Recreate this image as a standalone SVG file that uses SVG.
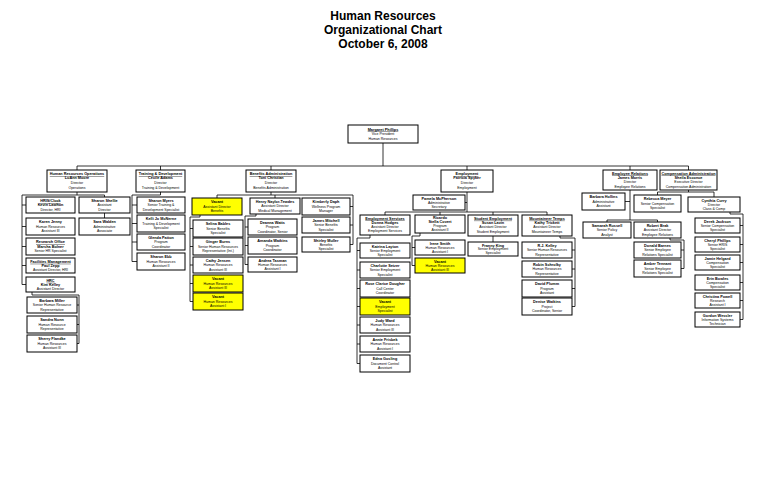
<svg xmlns="http://www.w3.org/2000/svg" width="768" height="497" viewBox="0 0 768 497">
<style>
.bx{fill:#fff;stroke:#000;stroke-width:1}
.yl{fill:#ffff00;stroke:#000;stroke-width:1}
text{font-family:"Liberation Sans",Arial,sans-serif;font-size:3.5px;text-anchor:middle;fill:#000}
.n{font-weight:bold;font-size:3.8px}
.u{font-weight:bold;font-size:3.8px;text-decoration:underline}
.ttl{font-size:12px;font-weight:bold}
.cn{fill:none;stroke:#000;stroke-width:0.8}
</style>
<rect width="768" height="497" fill="#fff"/>
<g id="title">
<text class="ttl" x="383" y="20">Human Resources</text>
<text class="ttl" x="383" y="34">Organizational Chart</text>
<text class="ttl" x="383" y="48">October 6, 2008</text>
</g>
<g id="connectors" class="cn">
<path d="M383 143V166M77 166H688.5M77 166V170M160.5 166V170M271 166V170M467 166V170M630 166V170M688.5 166V170"/>
<path d="M77 192V195H22V284.5M22 205H26M22 226.5H26M22 246.5H26M22 265.5H26M22 284.5H26M77 195H104.5V197M104.5 213V218M32 292V295H79V343.5M77 305H79M77 324.5H79M77 343.5H79"/>
<path d="M160.5 192V195H132V261.5M132 205H137M132 223.5H137M132 242H137M132 261.5H137"/>
<path d="M271 192V195M217 198V195H353V244.5M275 195V198M350 206.5H353M350 225H353M350 244.5H353M200 215V217H190V301.5M190 228.5H193M190 246.5H193M190 265H193M190 283.5H193M190 301.5H193M256 214V216H245V264.5M245 227H248M245 245.5H248M245 264.5H248"/>
<path d="M467 192V212M465 202.5H467M385 215V212H547V215M440 212V215M493 212V215M370 235V238H357V363.5M357 250.5H360M357 270H360M357 288.5H360M357 306.5H360M357 325H360M357 344H360M357 363.5H360M420 233V236H412V265.5M412 247.5H415M412 265.5H415M493 236V242M560 236V238H575V306.5M572 250H575M572 269H575M572 288.5H575M572 306.5H575"/>
<path d="M630 190V220M625 201.5H630M607 222V220H657.5V222M670 238V240H684V268.5M681 250H684M681 268.5H684"/>
<path d="M688.5 190V192M657.5 195V192H714V197M730 212V214H743V319.5M740 225.5H743M740 244.5H743M740 262.5H743M740 282.5H743M740 300.5H743M740 319.5H743"/>
</g>
<g id="root"><rect class="bx" x="348" y="125" width="70" height="18"/><text x="383" y="130.5" class="u">Margaret Phillips</text><text x="383" y="135">Vice President</text><text x="383" y="140">Human Resources</text></g>
<g id="ops"><rect class="bx" x="47" y="170" width="60" height="22"/><text x="77" y="175" class="u">Human Resources Operations</text><text x="77" y="179.3" class="n">LuAnn Moore</text><text x="77" y="184">Director</text><text x="77" y="188.5">Operations</text></g>
<g id="train"><rect class="bx" x="136" y="170" width="49" height="22"/><text x="160.5" y="175" class="u">Training &amp; Development</text><text x="160.5" y="179.3" class="n">Cecile Adams</text><text x="160.5" y="184">Director</text><text x="160.5" y="188.5">Training &amp; Development</text></g>
<g id="ben"><rect class="bx" x="246" y="170" width="50" height="22"/><text x="271" y="175" class="u">Benefits Administration</text><text x="271" y="179.3" class="n">Toni Christian</text><text x="271" y="184">Director</text><text x="271" y="188.5">Benefits Administration</text></g>
<g id="emp"><rect class="bx" x="441" y="170" width="52" height="22"/><text x="467" y="175" class="u">Employment</text><text x="467" y="179.3" class="n">Patricia Spyker</text><text x="467" y="184">Director</text><text x="467" y="188.5">Employment</text></g>
<g id="er"><rect class="bx" x="603" y="170" width="54" height="20"/><text x="630" y="174.5" class="u">Employee Relations</text><text x="630" y="178.8" class="n">James Morris</text><text x="630" y="183.2">Director</text><text x="630" y="187.5">Employee Relations</text></g>
<g id="comp"><rect class="bx" x="660" y="170" width="57" height="20"/><text x="688.5" y="174.5" class="u">Compensation Administration</text><text x="688.5" y="178.8" class="n">Sheila Esconce</text><text x="688.5" y="183.2">Executive Director</text><text x="688.5" y="187.5">Compensation Administration</text></g>
<g id="hris"><rect class="bx" x="26" y="197" width="49" height="16"/><text x="50.5" y="202" class="u">HRIS/Clock</text><text x="50.5" y="206.3" class="n">Kevin Lawhon</text><text x="50.5" y="210.6">Director, HRI</text></g>
<g id="shellie"><rect class="bx" x="79" y="197" width="51" height="16"/><text x="104.5" y="202" class="n">Sharon Shellie</text><text x="104.5" y="206.3">Assistant</text><text x="104.5" y="210.6">Director</text></g>
<g id="jenny"><rect class="bx" x="26" y="218" width="49" height="17"/><text x="50.5" y="223.3" class="n">Karen Jenny</text><text x="50.5" y="227.8">Human Resources</text><text x="50.5" y="232.3">Assistant III</text></g>
<g id="walden"><rect class="bx" x="79" y="218" width="51" height="17"/><text x="104.5" y="223.3" class="n">Sara Walden</text><text x="104.5" y="227.8">Administrative</text><text x="104.5" y="232.3">Associate</text></g>
<g id="research"><rect class="bx" x="26" y="238" width="49" height="17"/><text x="50.5" y="243.3" class="u">Research Office</text><text x="50.5" y="247.8" class="n">Marsha Bolner</text><text x="50.5" y="252.3">Senior HR Specialist</text></g>
<g id="facilities"><rect class="bx" x="26" y="258" width="49" height="15"/><text x="50.5" y="262.8" class="u">Facilities Management</text><text x="50.5" y="266.8" class="n">Paul Zepp</text><text x="50.5" y="270.8">Assistant Director, HRI</text></g>
<g id="hrc"><rect class="bx" x="26" y="277" width="49" height="15"/><text x="50.5" y="281.8" class="u">HRC</text><text x="50.5" y="285.8" class="n">Kim Kelley</text><text x="50.5" y="289.8">Assistant Director</text></g>
<g id="miller"><rect class="bx" x="27" y="297" width="50" height="16"/><text x="52" y="302" class="n">Barbara Miller</text><text x="52" y="306.3">Senior Human Resource</text><text x="52" y="310.6">Representative</text></g>
<g id="nunn"><rect class="bx" x="27" y="316" width="50" height="17"/><text x="52" y="321.3" class="n">Sandra Nunn</text><text x="52" y="325.8">Human Resource</text><text x="52" y="330.3">Representative</text></g>
<g id="flandke"><rect class="bx" x="27" y="335" width="50" height="17"/><text x="52" y="340.3" class="n">Sherry Flandke</text><text x="52" y="344.8">Human Resources</text><text x="52" y="349.3">Assistant III</text></g>
<g id="myers"><rect class="bx" x="137" y="197" width="48" height="16"/><text x="161" y="202" class="n">Sharon Myers</text><text x="161" y="206.3">Senior Training &amp;</text><text x="161" y="210.6">Development Specialist</text></g>
<g id="mcnerne"><rect class="bx" x="137" y="215" width="48" height="17"/><text x="161" y="220.3" class="n">Kelli Jo McNerne</text><text x="161" y="224.8">Training &amp; Development</text><text x="161" y="229.3">Specialist</text></g>
<g id="patton"><rect class="bx" x="137" y="234" width="48" height="16"/><text x="161" y="239" class="n">Glenda Patton</text><text x="161" y="243.3">Program</text><text x="161" y="247.6">Coordinator</text></g>
<g id="ebb"><rect class="bx" x="137" y="253" width="48" height="17"/><text x="161" y="258.3" class="n">Sharon Ebb</text><text x="161" y="262.8">Human Resources</text><text x="161" y="267.3">Assistant II</text></g>
<g id="vacad"><rect class="yl" x="192" y="198" width="50" height="17"/><text x="217" y="203.3" class="n">Vacant</text><text x="217" y="207.8">Assistant Director</text><text x="217" y="212.3">Benefits</text></g>
<g id="bables"><rect class="bx" x="193" y="220" width="50" height="17"/><text x="218" y="225.3" class="n">Selina Bables</text><text x="218" y="229.8">Senior Benefits</text><text x="218" y="234.3">Specialist</text></g>
<g id="burns"><rect class="bx" x="193" y="238" width="50" height="17"/><text x="218" y="243.3" class="n">Ginger Burns</text><text x="218" y="247.8">Senior Human Resources</text><text x="218" y="252.3">Representative (Int.)</text></g>
<g id="jensen"><rect class="bx" x="193" y="257" width="50" height="16"/><text x="218" y="262" class="n">Cathy Jensen</text><text x="218" y="266.3">Human Resources</text><text x="218" y="270.6">Assistant III</text></g>
<g id="vac2"><rect class="yl" x="193" y="275" width="50" height="17"/><text x="218" y="280.3" class="n">Vacant</text><text x="218" y="284.8">Human Resources</text><text x="218" y="289.3">Assistant III</text></g>
<g id="vac3"><rect class="yl" x="193" y="293" width="50" height="17"/><text x="218" y="298.3" class="n">Vacant</text><text x="218" y="302.8">Human Resources</text><text x="218" y="307.3">Assistant I</text></g>
<g id="henry"><rect class="bx" x="250" y="198" width="50" height="16"/><text x="275" y="203" class="n">Henry Naylor-Tewdes</text><text x="275" y="207.3">Assistant Director</text><text x="275" y="211.6">Medical Management</text></g>
<g id="watts"><rect class="bx" x="248" y="219" width="49" height="16"/><text x="272.5" y="224" class="n">Deanna Watts</text><text x="272.5" y="228.3">Program</text><text x="272.5" y="232.6">Coordinator, Senior</text></g>
<g id="watkins"><rect class="bx" x="248" y="237" width="49" height="17"/><text x="272.5" y="242.3" class="n">Amanda Watkins</text><text x="272.5" y="246.8">Program</text><text x="272.5" y="251.3">Coordinator</text></g>
<g id="tasman"><rect class="bx" x="248" y="257" width="49" height="15"/><text x="272.5" y="261.8" class="n">Andrea Tasman</text><text x="272.5" y="265.8">Human Resources</text><text x="272.5" y="269.8">Assistant I</text></g>
<g id="daph"><rect class="bx" x="302" y="198" width="48" height="17"/><text x="326" y="203.3" class="n">Kimberly Daph</text><text x="326" y="207.8">Wellness Program</text><text x="326" y="212.3">Manager</text></g>
<g id="mitchell"><rect class="bx" x="302" y="217" width="48" height="16"/><text x="326" y="222" class="n">James Mitchell</text><text x="326" y="226.3">Senior Benefits</text><text x="326" y="230.6">Specialist</text></g>
<g id="muller"><rect class="bx" x="302" y="237" width="48" height="15"/><text x="326" y="241.8" class="n">Shirley Muller</text><text x="326" y="245.8">Benefits</text><text x="326" y="249.8">Specialist</text></g>
<g id="pamela"><rect class="bx" x="413" y="195" width="52" height="15"/><text x="439" y="199.8" class="n">Pamela McPherson</text><text x="439" y="203.8">Administrative</text><text x="439" y="207.8">Secretary</text></g>
<g id="hodges"><rect class="bx" x="360" y="215" width="50" height="20"/><text x="385" y="219.5" class="u">Employment Services</text><text x="385" y="223.8" class="n">Donna Hodges</text><text x="385" y="228.1">Assistant Director</text><text x="385" y="232.4">Employment Services</text></g>
<g id="covert"><rect class="bx" x="415" y="215" width="50" height="18"/><text x="440" y="219.3" class="n">Ricardo</text><text x="440" y="223.3" class="n">Stella Covert</text><text x="440" y="227.3">Program</text><text x="440" y="231.3">Assistant II</text></g>
<g id="lavin"><rect class="bx" x="468" y="215" width="50" height="21"/><text x="493" y="219.7" class="u">Student Employment</text><text x="493" y="224" class="n">Susan Lavin</text><text x="493" y="228.4">Assistant Director</text><text x="493" y="232.8">Student Employment</text></g>
<g id="trickett"><rect class="bx" x="522" y="215" width="50" height="21"/><text x="547" y="219.7" class="u">Mountaineer Temps</text><text x="547" y="224" class="n">Kathy Trickett</text><text x="547" y="228.4">Assistant Director</text><text x="547" y="232.8">Mountaineer Temps</text></g>
<g id="layton"><rect class="bx" x="360" y="243" width="50" height="15"/><text x="385" y="247.8" class="n">Katrina Layton</text><text x="385" y="251.8">Senior Employment</text><text x="385" y="255.8">Specialist</text></g>
<g id="setzer"><rect class="bx" x="360" y="262" width="50" height="16"/><text x="385" y="267" class="n">Charlotte Setzer</text><text x="385" y="271.3">Senior Employment</text><text x="385" y="275.6">Specialist</text></g>
<g id="dougher"><rect class="bx" x="360" y="280" width="50" height="17"/><text x="385" y="285.3" class="n">Rose Clarice Dougher</text><text x="385" y="289.8">Call Center</text><text x="385" y="294.3">Coordinator</text></g>
<g id="vaces"><rect class="yl" x="360" y="298" width="50" height="17"/><text x="385" y="303.3" class="n">Vacant</text><text x="385" y="307.8">Employment</text><text x="385" y="312.3">Specialist</text></g>
<g id="ward"><rect class="bx" x="360" y="317" width="50" height="16"/><text x="385" y="322" class="n">Judy Ward</text><text x="385" y="326.3">Human Resources</text><text x="385" y="330.6">Assistant III</text></g>
<g id="frisbek"><rect class="bx" x="360" y="336" width="50" height="16"/><text x="385" y="341" class="n">Annie Frisbek</text><text x="385" y="345.3">Human Resources</text><text x="385" y="349.6">Assistant I</text></g>
<g id="gosling"><rect class="bx" x="360" y="355" width="50" height="17"/><text x="385" y="360.3" class="n">Edna Gosling</text><text x="385" y="364.8">Document Control</text><text x="385" y="369.3">Assistant</text></g>
<g id="smith"><rect class="bx" x="415" y="240" width="50" height="15"/><text x="440" y="244.8" class="n">Irene Smith</text><text x="440" y="248.8">Human Resources</text><text x="440" y="252.8">Assistant I</text></g>
<g id="vachr"><rect class="yl" x="415" y="258" width="50" height="15"/><text x="440" y="262.8" class="n">Vacant</text><text x="440" y="266.8">Human Resources</text><text x="440" y="270.8">Assistant III</text></g>
<g id="franny"><rect class="bx" x="468" y="242" width="50" height="14"/><text x="493" y="246.5" class="n">Franny King</text><text x="493" y="250.3">Senior Employment</text><text x="493" y="254.1">Specialist</text></g>
<g id="kelley"><rect class="bx" x="522" y="242" width="50" height="16"/><text x="547" y="247" class="n">R.J. Kelley</text><text x="547" y="251.3">Senior Human Resources</text><text x="547" y="255.6">Representative</text></g>
<g id="schrolky"><rect class="bx" x="522" y="261" width="50" height="16"/><text x="547" y="266" class="n">Robin Schrolky</text><text x="547" y="270.3">Human Resources</text><text x="547" y="274.6">Representative</text></g>
<g id="plumm"><rect class="bx" x="522" y="280" width="50" height="17"/><text x="547" y="285.3" class="n">David Plumm</text><text x="547" y="289.8">Program</text><text x="547" y="294.3">Assistant</text></g>
<g id="dwatkins"><rect class="bx" x="522" y="298" width="50" height="17"/><text x="547" y="303.3" class="n">Denise Watkins</text><text x="547" y="307.8">Project</text><text x="547" y="312.3">Coordinator, Senior</text></g>
<g id="hollins"><rect class="bx" x="582" y="193" width="43" height="17"/><text x="603.5" y="198.3" class="n">Barbara Hollins</text><text x="603.5" y="202.8">Administrative</text><text x="603.5" y="207.3">Assistant</text></g>
<g id="meyer"><rect class="bx" x="634" y="195" width="47" height="17"/><text x="657.5" y="200.3" class="n">Rebecca Meyer</text><text x="657.5" y="204.8">Senior Compensation</text><text x="657.5" y="209.3">Specialist</text></g>
<g id="russell"><rect class="bx" x="583" y="222" width="48" height="16"/><text x="607" y="227" class="n">Samarah Russell</text><text x="607" y="231.3">Senior Policy</text><text x="607" y="235.6">Analyst</text></g>
<g id="brak"><rect class="bx" x="634" y="222" width="47" height="16"/><text x="657.5" y="227" class="n">Robert Brak</text><text x="657.5" y="231.3">Assistant Director</text><text x="657.5" y="235.6">Employee Relations</text></g>
<g id="barnes"><rect class="bx" x="634" y="242" width="47" height="16"/><text x="657.5" y="247" class="n">Donald Barnes</text><text x="657.5" y="251.3">Senior Employee</text><text x="657.5" y="255.6">Relations Specialist</text></g>
<g id="tennant"><rect class="bx" x="634" y="260" width="47" height="17"/><text x="657.5" y="265.3" class="n">Amber Tennant</text><text x="657.5" y="269.8">Senior Employee</text><text x="657.5" y="274.3">Relations Specialist</text></g>
<g id="curry"><rect class="bx" x="688" y="197" width="52" height="15"/><text x="714" y="201.8" class="n">Cynthia Curry</text><text x="714" y="205.8">Director</text><text x="714" y="209.8">Class &amp; Comp</text></g>
<g id="jackson"><rect class="bx" x="695" y="218" width="45" height="15"/><text x="717.5" y="222.8" class="n">Derek Jackson</text><text x="717.5" y="226.8">Senior Compensation</text><text x="717.5" y="230.8">Specialist</text></g>
<g id="cphillips"><rect class="bx" x="695" y="237" width="45" height="15"/><text x="717.5" y="241.8" class="n">Cheryl Phillips</text><text x="717.5" y="245.8">Senior HRIS</text><text x="717.5" y="249.8">Specialist</text></g>
<g id="helgard"><rect class="bx" x="695" y="255" width="45" height="15"/><text x="717.5" y="259.8" class="n">Jamie Helgard</text><text x="717.5" y="263.8">Compensation</text><text x="717.5" y="267.8">Specialist</text></g>
<g id="bowles"><rect class="bx" x="695" y="275" width="45" height="15"/><text x="717.5" y="279.8" class="n">Erin Bowles</text><text x="717.5" y="283.8">Compensation</text><text x="717.5" y="287.8">Specialist</text></g>
<g id="powell"><rect class="bx" x="695" y="293" width="45" height="15"/><text x="717.5" y="297.8" class="n">Christina Powell</text><text x="717.5" y="301.8">Research</text><text x="717.5" y="305.8">Assistant I</text></g>
<g id="wessler"><rect class="bx" x="695" y="312" width="45" height="15"/><text x="717.5" y="316.8" class="n">Gordon Wessler</text><text x="717.5" y="320.8">Information Systems</text><text x="717.5" y="324.8">Technician</text></g>
</svg>
